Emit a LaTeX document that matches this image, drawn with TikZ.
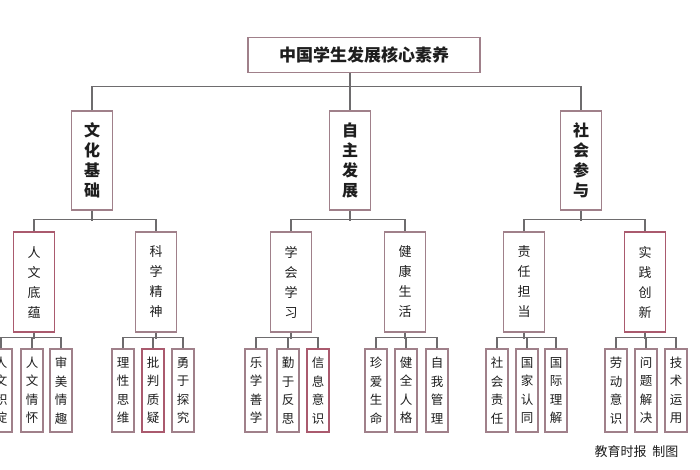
\documentclass[tikz,border=0pt]{standalone}
\usepackage{fontspec}
\setmainfont{Noto Sans CJK SC}
\newfontfamily\cjk{Noto Sans CJK SC}
\definecolor{linegray}{RGB}{110,108,110}
\definecolor{boxrim}{RGB}{160,128,138}
\definecolor{boxred}{RGB}{170,90,110}
\definecolor{inkdark}{RGB}{30,30,30}
\begin{document}
\begin{tikzpicture}[x=1pt,y=-1pt,
  conn/.style={draw=linegray,line width=1.4pt},
  titlebox/.style={draw=boxrim,line width=1.2pt,minimum width=232pt,minimum height=35pt,inner sep=0pt,font=\cjk\bfseries\fontsize{17}{20}\selectfont,text=inkdark},
  lvone/.style={draw=boxrim,line width=1.2pt,minimum width=41pt,minimum height=99pt,inner sep=0pt,align=center,font=\cjk\bfseries\fontsize{16}{20}\selectfont,text=inkdark},
  lvtwo/.style={draw=boxrim,line width=1.2pt,minimum width=41pt,minimum height=100pt,inner sep=0pt,align=center,font=\cjk\fontsize{13}{20}\selectfont,text=inkdark},
  lvthree/.style={draw=boxrim,line width=1.2pt,minimum width=22pt,minimum height=83pt,inner sep=0pt,align=center,font=\cjk\fontsize{12.5}{18.5}\selectfont,text=inkdark},
  redrim/.style={draw=boxred}
]
\useasboundingbox[fill=white] (0,0) rectangle (700,470);

% title
\node[titlebox] (t) at (364,55) {中国学生发展核心素养};

% level 1
\node[lvone] (a) at (92,160.5) {文\\化\\基\\础};
\node[lvone] (b) at (350,160.5) {自\\主\\发\\展};
\node[lvone] (c) at (581,160.5) {社\\会\\参\\与};

% level 2
\node[lvtwo,redrim] (a1) at (34,282) {人\\文\\底\\蕴};
\node[lvtwo] (a2) at (156,282) {科\\学\\精\\神};
\node[lvtwo] (b1) at (291,282) {学\\会\\学\\习};
\node[lvtwo] (b2) at (405,282) {健\\康\\生\\活};
\node[lvtwo] (c1) at (524,282) {责\\任\\担\\当};
\node[lvtwo,redrim] (c2) at (645,282) {实\\践\\创\\新};

% level 3
\node[lvthree] (a11) at (1,390.5) {人\\文\\积\\淀};
\node[lvthree] (a12) at (32,390.5) {人\\文\\情\\怀};
\node[lvthree] (a13) at (61,390.5) {审\\美\\情\\趣};
\node[lvthree] (a21) at (123,390.5) {理\\性\\思\\维};
\node[lvthree,redrim] (a22) at (153,390.5) {批\\判\\质\\疑};
\node[lvthree] (a23) at (183,390.5) {勇\\于\\探\\究};
\node[lvthree] (b11) at (256,390.5) {乐\\学\\善\\学};
\node[lvthree] (b12) at (288,390.5) {勤\\于\\反\\思};
\node[lvthree,redrim] (b13) at (318,390.5) {信\\息\\意\\识};
\node[lvthree] (b21) at (376,390.5) {珍\\爱\\生\\命};
\node[lvthree] (b22) at (406,390.5) {健\\全\\人\\格};
\node[lvthree] (b23) at (437,390.5) {自\\我\\管\\理};
\node[lvthree] (c11) at (497,390.5) {社\\会\\责\\任};
\node[lvthree] (c12) at (527,390.5) {国\\家\\认\\同};
\node[lvthree] (c13) at (556,390.5) {国\\际\\理\\解};
\node[lvthree] (c21) at (616,390.5) {劳\\动\\意\\识};
\node[lvthree] (c22) at (646,390.5) {问\\题\\解\\决};
\node[lvthree] (c23) at (676,390.5) {技\\术\\运\\用};

% credit
\node[font=\cjk\fontsize{13}{15}\selectfont,text=inkdark,anchor=east] (cr) at (682,452) {教育时报\ \ 制图};

% connectors: title to level 1
\coordinate (tb) at (b.north |- 0,87);
\draw[conn] (t.south -| b.north) -- (tb);
\draw[conn] (a.north) -- ++(0,-24) -| (c.north);
\draw[conn] (tb) -- (b.north);

% level 1 to level 2
\foreach \p/\l/\r in {a/a1/a2,b/b1/b2,c/c1/c2}{
  \draw[conn] (\p.south) -- ++(0,10);
  \draw[conn] (\l.north) -- ++(0,-12) -| (\r.north);
}
% level 2 to level 3
\foreach \p/\l/\m/\r in {a1/a11/a12/a13,a2/a21/a22/a23,b1/b11/b12/b13,b2/b21/b22/b23,c1/c11/c12/c13,c2/c21/c22/c23}{
  \draw[conn] (\p.south) -- ++(0,6);
  \draw[conn] (\l.north) -- ++(0,-11) -| (\r.north);
  \draw[conn] (\m.north) -- ++(0,-11);
}
\end{tikzpicture}
\end{document}
